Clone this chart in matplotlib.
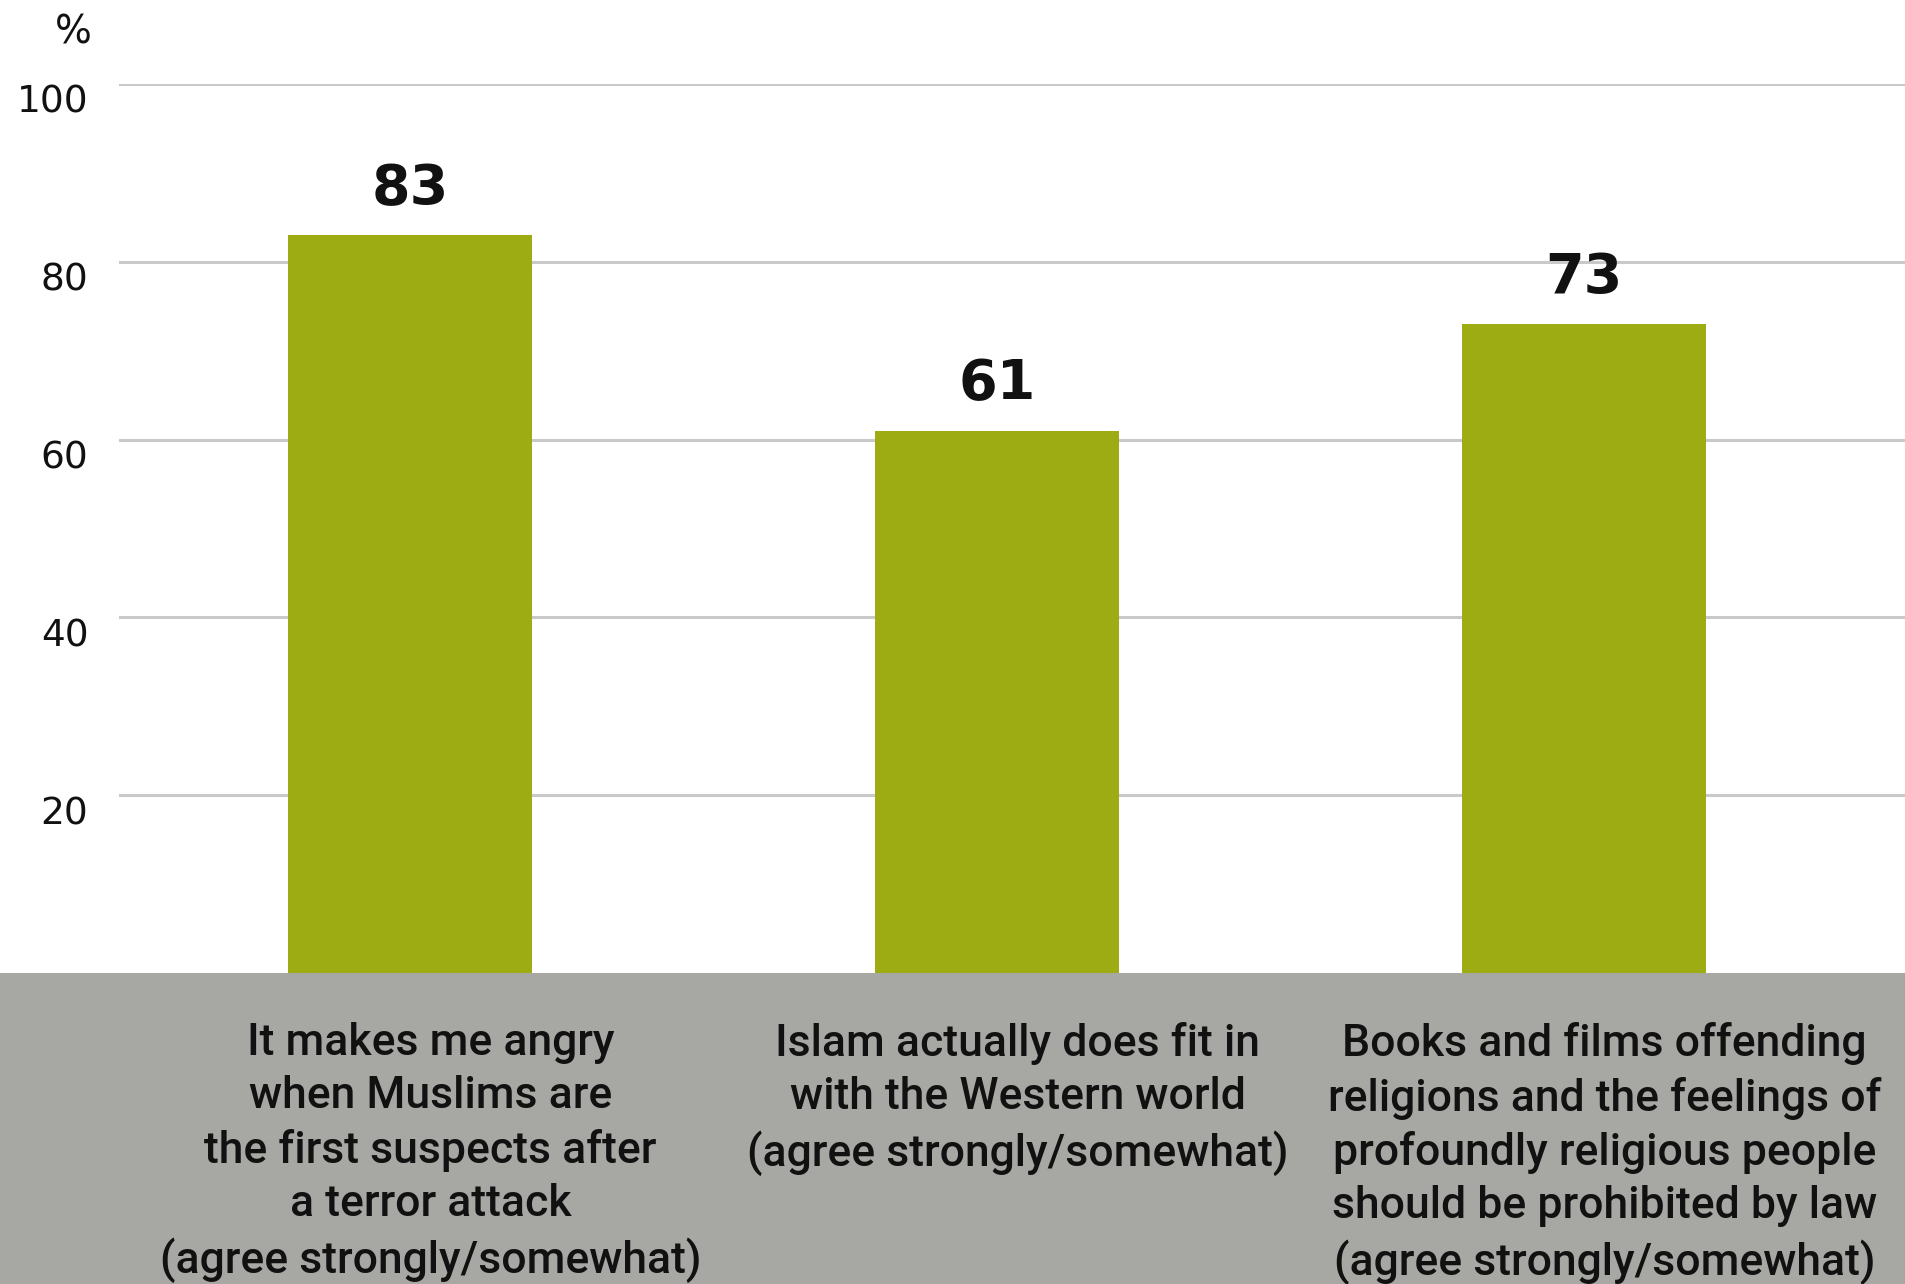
import matplotlib
matplotlib.use("Agg")
import matplotlib.pyplot as plt
from matplotlib.patches import Rectangle
from matplotlib.transforms import ScaledTranslation

categories = [
    "It makes me angry\nwhen Muslims are\nthe first suspects after\na terror attack\n(agree strongly/somewhat)",
    "Islam actually does fit in\nwith the Western world\n(agree strongly/somewhat)",
    "Books and films offending\nreligions and the feelings of\nprofoundly religious people\nshould be prohibited by law\n(agree strongly/somewhat)",
]
values = [83, 61, 73]
yticks = [20, 40, 60, 80, 100]

BAR = "#9DAC12"
GRAY = "#A7A8A3"
GRID = "#C9C9C9"

W, H = 1906, 1284
fig = plt.figure(figsize=(W / 100, H / 100), dpi=100)
fig.patch.set_facecolor("white")

# gray band at the bottom
fig.patches.append(Rectangle((0, 0), 1, (H - 973) / H, transform=fig.transFigure,
                             facecolor=GRAY, edgecolor="none", zorder=-10))

ax = fig.add_axes([119 / W, (H - 973) / H, 1 - 119 / W, (973 - 84) / H])
ax.set_facecolor("none")
x = list(range(len(values)))
ax.bar(x, values, width=0.416, color=BAR, zorder=3)
ax.set_xlim(-0.496, 2.549)
ax.set_ylim(0, 100)
for s in ax.spines.values():
    s.set_visible(False)
ax.set_yticks(yticks)
ax.set_yticklabels([str(t) for t in yticks], fontsize=27, color="#111111")
ax.tick_params(axis="y", length=0, pad=22)
ax.tick_params(axis="x", length=0, labelbottom=False)
ax.grid(axis="y", color=GRID, linewidth=2.2, zorder=0)
ax.set_axisbelow(True)
off = ScaledTranslation(0, -0.15, fig.dpi_scale_trans)
for lab in ax.get_yticklabels():
    lab.set_transform(lab.get_transform() + off)

fig.text(73 / W, 1 - 32 / H, "%", ha="center", va="center", fontsize=28, color="#111111")

for xi, v in zip(x, values):
    ax.annotate(str(v), (xi, v), xytext=(0, 14), textcoords="offset points",
                ha="center", va="bottom", fontsize=40, fontweight="semibold",
                color="#111111", annotation_clip=False)

for xi, lab in zip(x, categories):
    cx = ax.transData.transform((xi + 0.035, 0))[0] / W
    fig.text(cx, 1 - 1022 / H, lab, ha="center", va="top",
             fontsize=32, family="Roboto", fontweight="medium", color="#111111",
             linespacing=1.34, zorder=5)

fig.savefig("out.png", dpi=100)
